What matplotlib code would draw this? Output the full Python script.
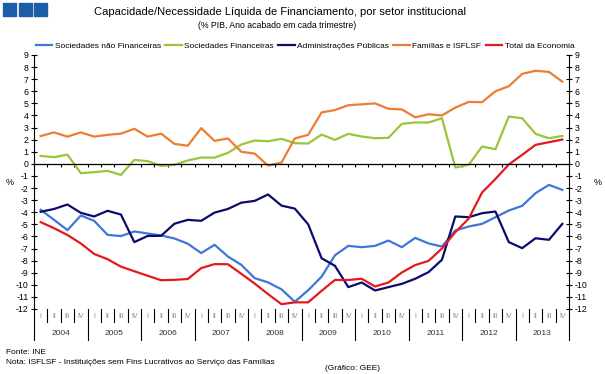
import numpy as np
import matplotlib.pyplot as plt
from matplotlib.patches import Rectangle

plt.rcParams['font.family'] = ['Liberation Sans', 'DejaVu Sans']
plt.rcParams['axes.unicode_minus'] = False

# quarterly data 2004Q1 - 2013Q4, % of GDP (rolling 4 quarters)
years = list(range(2004, 2014))
quarters = ['I', 'II', 'III', 'IV']

soc_nao_fin = [-3.8, -4.63, -5.48, -4.27, -4.71, -5.87, -5.97, -5.59, -5.76, -5.92,
               -6.17, -6.6, -7.38, -6.69, -7.66, -8.35, -9.45, -9.8, -10.37, -11.4,
               -10.45, -9.33, -7.56, -6.78, -6.89, -6.78, -6.34, -6.89, -6.12, -6.58,
               -6.84, -5.51, -5.18, -4.96, -4.41, -3.86, -3.47, -2.42, -1.74, -2.15]
soc_fin = [0.66, 0.55, 0.76, -0.77, -0.69, -0.58, -0.91, 0.33, 0.22, -0.17,
           -0.08, 0.28, 0.52, 0.52, 0.91, 1.6, 1.93, 1.87, 2.07, 1.71,
           1.68, 2.42, 1.98, 2.48, 2.26, 2.12, 2.15, 3.31, 3.42, 3.42,
           3.77, -0.3, -0.08, 1.43, 1.21, 3.91, 3.77, 2.48, 2.12, 2.31]
adm_publicas = [-3.96, -3.73, -3.36, -4.05, -4.35, -3.88, -4.19, -6.47, -5.96, -5.95,
                -4.95, -4.63, -4.71, -4.03, -3.73, -3.21, -3.06, -2.53, -3.45, -3.7,
                -5.0, -7.8, -8.43, -10.19, -9.81, -10.47, -10.19, -9.92, -9.5, -8.95,
                -7.93, -4.35, -4.41, -4.08, -3.94, -6.47, -6.97, -6.15, -6.28, -4.96]
familias = [2.3, 2.6, 2.25, 2.6, 2.25, 2.4, 2.5, 2.9, 2.25, 2.5,
            1.65, 1.5, 2.95, 1.9, 2.1, 1.0, 0.85, -0.15, 0.1, 2.1,
            2.4, 4.25, 4.45, 4.85, 4.92, 5.0, 4.55, 4.5, 3.85, 4.1,
            4.0, 4.65, 5.12, 5.1, 6.0, 6.42, 7.44, 7.7, 7.6, 6.8]
total = [-4.82, -5.32, -5.88, -6.58, -7.45, -7.88, -8.5, -8.88, -9.25, -9.62,
         -9.59, -9.52, -8.62, -8.29, -8.3, -9.09, -9.9, -10.77, -11.6, -11.45,
         -11.45, -10.5, -9.6, -9.6, -9.5, -10.14, -9.81, -8.98, -8.37, -8.02,
         -7.0, -5.65, -4.53, -2.37, -1.25, -0.05, 0.75, 1.57, 1.79, 2.01]

series = [
    ('Sociedades não Financeiras', soc_nao_fin, '#3F76D8'),
    ('Sociedades Financeiras', soc_fin, '#9AC43C'),
    ('Administrações Públicas', adm_publicas, '#0B0B6E'),
    ('Famílias e ISFLSF', familias, '#ED7D31'),
    ('Total da Economia', total, '#E3191E'),
]

W, H = 605, 374
fig = plt.figure(figsize=(W / 100, H / 100), dpi=100)
ax = fig.add_axes([34 / W, 1 - 309 / H, 535 / W, 254 / H])

x = np.arange(len(total))
for name, vals, col in series:
    ax.plot(x, vals, color=col, lw=1.6, label=name)

ax.set_xlim(-0.5, len(x) - 0.5)
ax.set_ylim(-12, 9)
ax.set_yticks(range(-12, 10))
ax.tick_params(axis='y', direction='inout', length=4, width=0.8, labelsize=6.3,
               left=True, right=True, labelleft=True, labelright=True, pad=2)
ax.spines['top'].set_visible(False)
ax.spines['bottom'].set_position(('data', 0))
ax.spines['bottom'].set_linewidth(0.9)
ax.spines['left'].set_linewidth(0.8)
ax.spines['right'].set_linewidth(0.8)
ax.set_xticks(np.arange(-0.5, len(x), 1))
ax.tick_params(axis='x', direction='out', length=2.5, width=0.8, labelbottom=False)

# category labels below the plot (quarters and years)
trans = ax.get_xaxis_transform()
for k in range(len(x) + 1):
    y_end = -0.122 if k % 4 == 0 else -0.051
    ax.plot([k - 0.5, k - 0.5], [0, y_end], color='black', lw=0.8,
            transform=trans, clip_on=False)
for k in range(len(x)):
    ax.text(k, -0.031, quarters[k % 4], transform=trans, ha='center', va='center',
            fontsize=5, color='#8a8a8a')
for j, yr in enumerate(years):
    ax.text(4 * j + 1.5, -0.098, str(yr), transform=trans, ha='center', va='center',
            fontsize=6, color='#333333')

fig.text(10 / W, 1 - 183 / H, '%', fontsize=6.5, ha='center', va='center')
fig.text(598 / W, 1 - 183 / H, '%', fontsize=6.5, ha='center', va='center')

# header
for i in range(3):
    fig.patches.append(Rectangle(((3 + 15.5 * i) / W, 1 - 16 / H), 13 / W, 13 / H,
                                 transform=fig.transFigure, color='#1B5EA8'))
fig.text(280 / W, 1 - 12 / H,
         'Capacidade/Necessidade Líquida de Financiamento, por setor institucional',
         fontsize=8, ha='center', va='center')
fig.text(277 / W, 1 - 25 / H, '(% PIB, Ano acabado em cada trimestre)',
         fontsize=6.3, ha='center', va='center')

fig.legend(loc='center', bbox_to_anchor=(305 / W, 1 - 46 / H), ncol=5, frameon=False,
           fontsize=6, handlelength=2.0, handletextpad=0.3, columnspacing=0.5,
           borderaxespad=0)

# footer
fig.text(6 / W, 1 - 352 / H, 'Fonte: INE', fontsize=6, va='center')
fig.text(6 / W, 1 - 362 / H,
         'Nota: ISFLSF - Instituições sem Fins Lucrativos ao Serviço das Famílias',
         fontsize=6, va='center')
fig.text(325 / W, 1 - 368 / H, '(Gráfico: GEE)', fontsize=6, va='center')

fig.savefig('out.png', dpi=100)
